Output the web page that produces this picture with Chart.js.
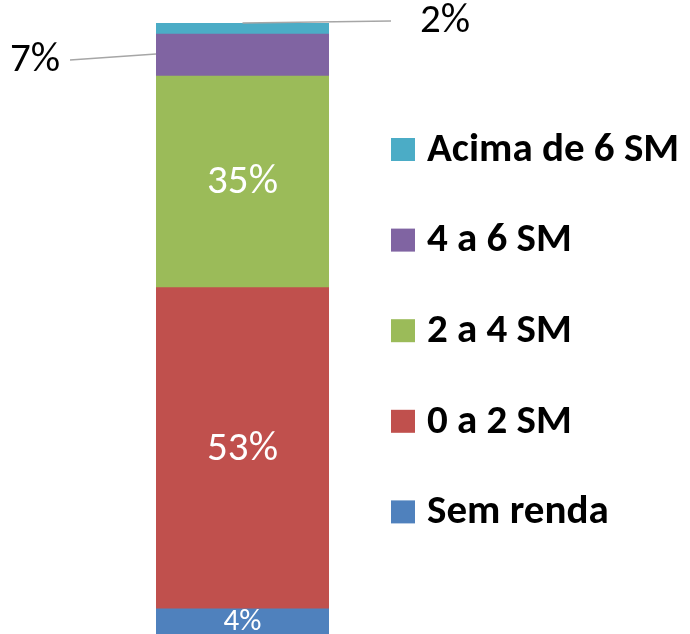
<!DOCTYPE html>
<html>
<head>
<meta charset="utf-8">
<script src="https://cdn.jsdelivr.net/npm/chart.js@4/dist/chart.umd.min.js"></script>
<style>
	body { margin: 0; background: #fff; }
	#chart { display: block; }
</style>
</head>
<body>
<canvas id="chart" width="690" height="634"></canvas>
<script>
// income bands, bottom to top of the stacked bar
const categories = [ 'Total' ];
const seriesNames = [ 'Sem renda', '0 a 2 SM', '2 a 4 SM', '4 a 6 SM', 'Acima de 6 SM' ];
const seriesValues = [ 4.1, 52.6, 34.6, 6.9, 1.8 ];
const seriesLabels = [ '4%', '53%', '35%', '7%', '2%' ];
const seriesColors = [ '#4F81BD', '#C0504D', '#9BBB59', '#8064A2', '#4BACC6' ];

const fontFamily = 'Carlito, Lato, "Liberation Sans", sans-serif';

// value labels: white inside big segments, leader lines for the small ones
const valueLabels = {
	id: 'valueLabels',
	afterDatasetsDraw( chart ) {
		const c = chart.ctx;
		c.save();
		c.textAlign = 'center';
		c.textBaseline = 'middle';
		chart.data.datasets.forEach( ( ds, i ) => {
			const bar = chart.getDatasetMeta( i ).data[ 0 ];
			const mid = ( bar.y + bar.base ) / 2;
			const text = seriesLabels[ i ];
			if ( i === 3 ) {
				// 7% on the left
				c.strokeStyle = '#A6A6A6';
				c.lineWidth = 1.5;
				c.beginPath();
				c.moveTo( bar.x - bar.width / 2, mid - 1 );
				c.lineTo( 70, mid + 5 );
				c.stroke();
				c.fillStyle = '#000';
				c.font = '41px ' + fontFamily;
				c.fillText( text, 35, mid + 6 );
			} else if ( i === 4 ) {
				// 2% on the right
				c.strokeStyle = '#A6A6A6';
				c.lineWidth = 1.5;
				c.beginPath();
				c.moveTo( bar.x, bar.y );
				c.lineTo( 391, bar.y - 2 );
				c.stroke();
				c.fillStyle = '#000';
				c.font = '41px ' + fontFamily;
				c.fillText( text, 445, bar.y - 1 );
			} else {
				c.fillStyle = '#fff';
				c.font = ( i === 0 ? '31px ' : '41px ' ) + fontFamily;
				c.fillText( text, bar.x, mid + 1 );
			}
		} );
		c.restore();
	},
};

// legend on the right, top entry is the top segment
const sideLegend = {
	id: 'sideLegend',
	afterDraw( chart ) {
		const c = chart.ctx;
		c.save();
		c.textAlign = 'left';
		c.textBaseline = 'middle';
		c.font = 'bold 41px ' + fontFamily;
		const items = chart.data.datasets.slice().reverse();
		items.forEach( ( ds, k ) => {
			const cy = 149.5 + k * 90.6;
			c.fillStyle = ds.backgroundColor;
			c.fillRect( 391, cy - 11.5, 24, 23 );
			c.fillStyle = '#000';
			c.fillText( ds.label, 427, cy + 1 );
		} );
		c.restore();
	},
};

new Chart( document.getElementById( 'chart' ), {
	type: 'bar',
	data: {
		labels: categories,
		datasets: seriesNames.map( ( name, i ) => ( {
			label: name,
			data: [ seriesValues[ i ] ],
			backgroundColor: seriesColors[ i ],
			borderWidth: 0,
			barPercentage: 1,
			categoryPercentage: 1,
		} ) ),
	},
	options: {
		responsive: false,
		animation: false,
		layout: { padding: { left: 156, right: 361, top: 23, bottom: 0 } },
		plugins: {
			legend: { display: false },
			tooltip: { enabled: false },
		},
		scales: {
			x: { stacked: true, display: false },
			y: { stacked: true, display: false, min: 0, max: 100 },
		},
	},
	plugins: [ valueLabels, sideLegend ],
} );
</script>
</body>
</html>
